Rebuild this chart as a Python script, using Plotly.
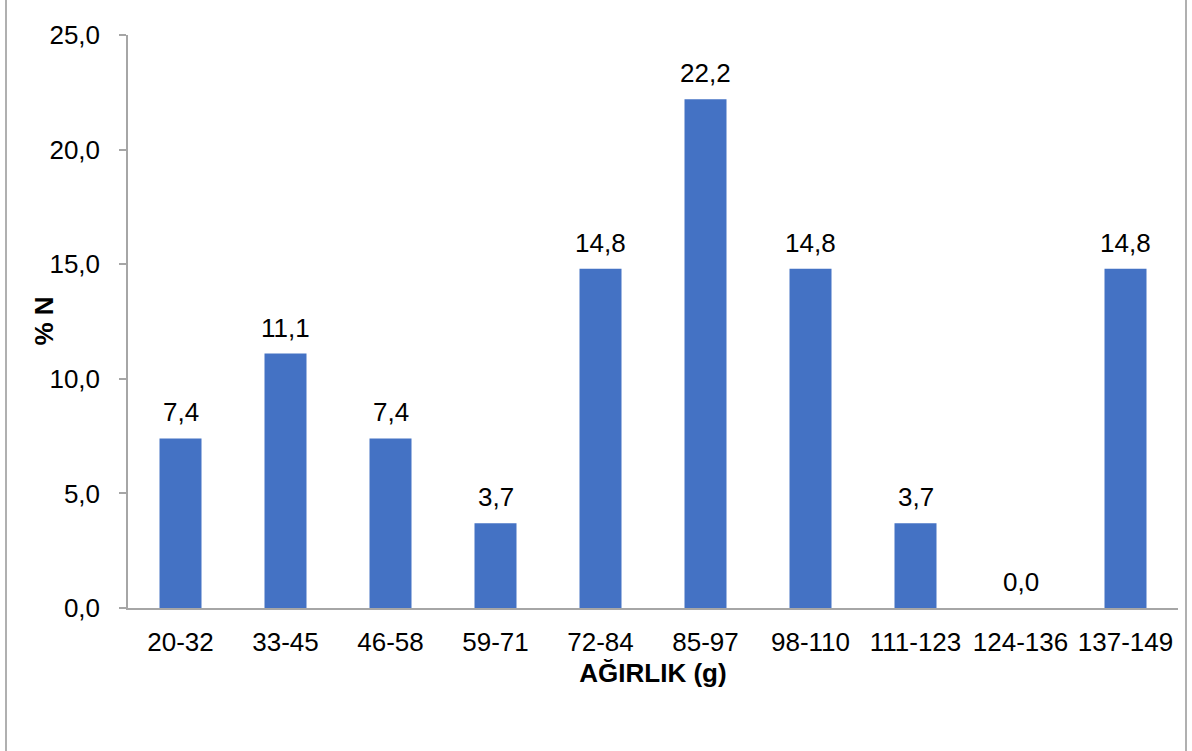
import plotly.graph_objects as go

categories = ["20-32", "33-45", "46-58", "59-71", "72-84", "85-97", "98-110", "111-123", "124-136", "137-149"]
values = [7.4, 11.1, 7.4, 3.7, 14.8, 22.2, 14.8, 3.7, 0.0, 14.8]
y_ticks = [0, 5, 10, 15, 20, 25]

W, H = 1192, 751
L, R, T, B = 128, 14, 35, 143
pw = W - L - R

font = "Liberation Sans, Arial, sans-serif"
FS = 26

fig = go.Figure(go.Bar(
    x=categories, y=values,
    marker=dict(color="#4472C4", line=dict(width=0)),
))

def px_x(p):
    return (p - L) / pw

annotations = [
    dict(x=c, y=v, xref="x", yref="y", text=f"{v:.1f}".replace(".", ","),
         showarrow=False, yanchor="bottom", xanchor="center", yshift=9,
         font=dict(family=font, size=FS, color="#000000"))
    for c, v in zip(categories, values)
]
annotations.append(dict(
    x=px_x(43), y=0.5, xref="paper", yref="paper", text="<b>% N</b>",
    textangle=-90, showarrow=False, xanchor="center", yanchor="middle",
    font=dict(family=font, size=FS, color="#000000"),
))

fig.update_layout(
    width=W, height=H,
    margin=dict(l=L, r=R, t=T, b=B, autoexpand=False),
    paper_bgcolor="white", plot_bgcolor="white",
    separators=",.",
    bargap=0.6,
    showlegend=False,
    font=dict(family=font, size=FS, color="#000000"),
    xaxis=dict(
        showline=True, linecolor="#A6A6A6", linewidth=1.5,
        ticks="", showgrid=False, automargin=False,
        tickfont=dict(family=font, size=FS, color="#000000"),
        ticklabelstandoff=10,
        title=dict(text="<b>AĞIRLIK (g)</b>", font=dict(family=font, size=FS), standoff=8),
    ),
    yaxis=dict(
        range=[0, 25], tickvals=y_ticks, tickformat=".1f",
        showline=True, linecolor="#A6A6A6", linewidth=1.5,
        ticks="outside", ticklen=7, tickcolor="#A6A6A6", tickwidth=1.5,
        showgrid=False, zeroline=False, automargin=False,
        tickfont=dict(family=font, size=FS, color="#000000"),
        ticklabelstandoff=14,
    ),
    annotations=annotations,
    shapes=[
        dict(type="line", xref="paper", yref="paper", x0=px_x(6), x1=px_x(6), y0=-0.5, y1=1.5,
             line=dict(color="#B0B0B0", width=2)),
        dict(type="line", xref="paper", yref="paper", x0=px_x(1186), x1=px_x(1186), y0=-0.5, y1=1.5,
             line=dict(color="#B0B0B0", width=2)),
    ],
)

fig.write_html("out.html", config={"displayModeBar": False},
               post_script="document.body.style.margin='0';")
